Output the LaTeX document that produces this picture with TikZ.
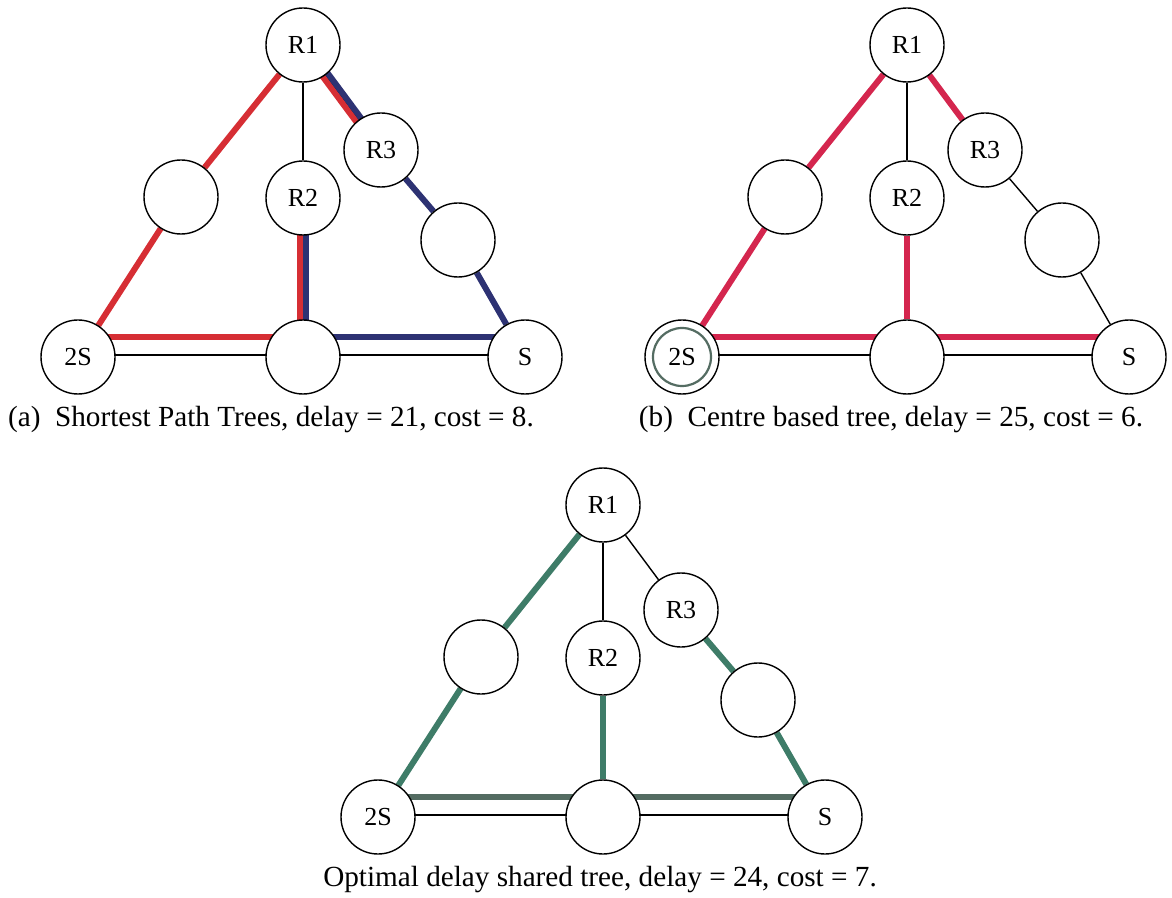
\documentclass[tikz,border=0pt]{standalone}
\usepackage{fontspec}
\setmainfont{Liberation Serif}
\usepackage{tikz}
\usetikzlibrary{backgrounds}

\definecolor{sptred}{RGB}{214,46,52}
\definecolor{sptblue}{RGB}{45,50,115}
\definecolor{cbtred}{RGB}{212,38,78}
\definecolor{odgreen}{RGB}{62,124,104}
\definecolor{odgrey}{RGB}{84,108,98}

\begin{document}
\begin{tikzpicture}[x=0.5pt,y=-0.5pt,font=\fontsize{13}{15}\selectfont,
  router/.style={circle,draw,line width=0.7pt,fill=white,minimum size=37pt,inner sep=0pt},
  link/.style={line width=0.7pt},
  tree/.style={line width=3pt},
  caption/.style={anchor=base,font=\fontsize{14.6}{17}\selectfont}]
\useasboundingbox (0,0) rectangle (1172,898);
% the same network three times, R1 at the top
\foreach \p/\sx/\sy in {a/303/45,b/907/45,c/603/505} {
  \begin{scope}[shift={(\sx,\sy)}]
    \node[router] (\p-R1) at (0,0) {R1};
    \node[router] (\p-R3) at (78,105) {R3};
    \node[router] (\p-R2) at (0,153) {R2};
    \node[router] (\p-W) at (-122,152) {};
    \node[router] (\p-E) at (155,195) {};
    \node[router] (\p-2S) at (-225,312) {2S};
    \node[router] (\p-H) at (0,312) {};
    \node[router] (\p-S) at (222,312) {S};
  \end{scope}
}
\begin{scope}[on background layer]
% plain links
\foreach \p in {a,b,c} {
  \draw[link] (\p-R1) -- (\p-W) -- (\p-2S);
  \draw[link] (\p-R1) -- (\p-R2) -- (\p-H);
  \draw[link] (\p-R1) -- (\p-R3) -- (\p-E) -- (\p-S);
  % two parallel links along the base
  \draw[link] ([yshift=10pt]\p-2S.center) -- ([yshift=10pt]\p-S.center);
  \draw[link] ([yshift=1pt]\p-2S.center) -- ([yshift=1pt]\p-S.center);
}
% (a) shortest path trees
\draw[tree,sptred] (a-2S) -- (a-W) -- (a-R1);
\draw[tree,sptred] ([yshift=10pt]a-2S.center) -- ([yshift=10pt]a-H.center);
\draw[tree,sptred] ([xshift=-1.5pt]a-H.center) -- ([xshift=-1.5pt]a-R2.center);
\draw[tree,sptred] ([shift={(-1.2pt,-0.9pt)}]a-R1.center) -- ([shift={(-1.2pt,-0.9pt)}]a-R3.center);
\draw[tree,sptblue] ([shift={(1.2pt,0.9pt)}]a-R1.center) -- ([shift={(1.2pt,0.9pt)}]a-R3.center);
\draw[tree,sptblue] (a-R3) -- (a-E) -- (a-S);
\draw[tree,sptblue] ([yshift=10pt]a-H.center) -- ([yshift=10pt]a-S.center);
\draw[tree,sptblue] ([xshift=1.5pt]a-H.center) -- ([xshift=1.5pt]a-R2.center);
% (b) centre based tree
\draw[tree,cbtred] (b-2S) -- (b-W) -- (b-R1) -- (b-R3);
\draw[tree,cbtred] (b-R2) -- (b-H);
\draw[tree,cbtred] ([yshift=10pt]b-2S.center) -- ([yshift=10pt]b-S.center);
% (c) optimal delay shared tree
\draw[tree,odgreen] (c-2S) -- (c-W) -- (c-R1);
\draw[tree,odgreen] (c-R2) -- (c-H);
\draw[tree,odgreen] (c-R3) -- (c-E) -- (c-S);
\draw[tree,odgrey] ([yshift=10pt]c-2S.center) -- ([yshift=10pt]c-S.center);
\end{scope}
% centre of tree (b)
\draw[odgrey,line width=1.1pt] (b-2S) circle (14.5pt);
% captions
\node[caption] (capA) at (271,427) {(a)\enspace Shortest Path Trees, delay = 21, cost = 8.};
\node[caption] (capB) at (891,427) {(b)\enspace Centre based tree, delay = 25, cost = 6.};
\node[caption] (capC) at (600,886) {Optimal delay shared tree, delay = 24, cost = 7.};
\end{tikzpicture}
\end{document}
